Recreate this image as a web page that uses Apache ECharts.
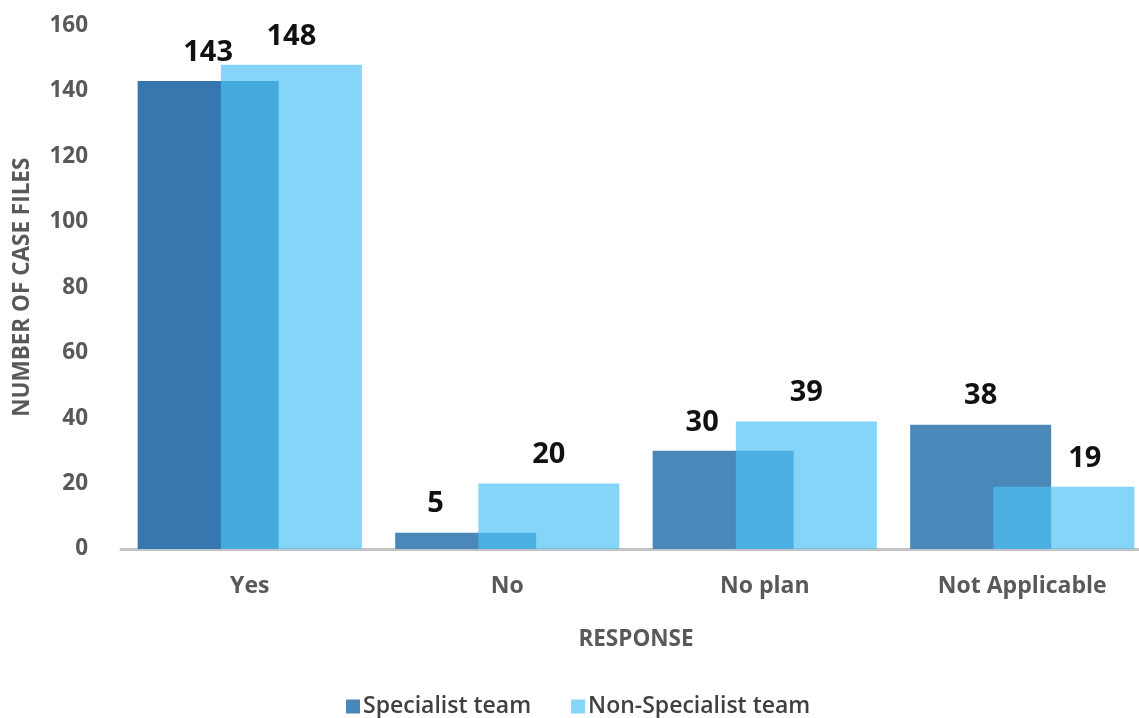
<!DOCTYPE html>
<html>
<head>
<meta charset="utf-8">
<script src="https://cdn.jsdelivr.net/npm/echarts@6/dist/echarts.min.js"></script>
<style>
  html, body { margin: 0; padding: 0; background: #ffffff; }
  #chart { width: 1139px; height: 718px; }
</style>
</head>
<body>
<div id="chart"></div>
<script>
// Case files by response, split by team type
const categories = ['Yes', 'No', 'No plan', 'Not Applicable'];
const specialist = [143, 5, 30, 38];
const nonSpecialist = [148, 20, 39, 19];
const seriesNames = ['Specialist team', 'Non-Specialist team'];
const yTicks = { min: 0, max: 160, step: 20 };

// Horizontal nudges (px) for value labels that sit near a neighbouring bar
const specialistLabelShift = [0, -30, -21, 0];
const nonSpecialistLabelShift = [0, 0, 0, 21];

const FONT = '"Open Sans", "Liberation Sans", sans-serif';
const GREY = '#595959';

const chart = echarts.init(document.getElementById('chart'), null, { renderer: 'canvas' });

const valueLabel = {
  show: true,
  position: 'top',
  distance: 14,
  fontFamily: FONT,
  fontSize: 29,
  fontWeight: 700,
  color: '#111111'
};

function withShift(values, shifts) {
  return values.map((v, i) => ({ value: v, label: { offset: [shifts[i], 0] } }));
}

chart.setOption({
  animation: false,
  backgroundColor: '#ffffff',
  grid: {
    left: 121, top: 25.5, width: 1030, height: 523.5,
    containLabel: false,
    outerBoundsMode: 'none'
  },
  legend: {
    left: 341,
    top: 690,
    itemWidth: 14,
    itemHeight: 14,
    itemGap: 40,
    icon: 'rect',
    textStyle: { fontFamily: FONT, fontSize: 23, fontWeight: 600, color: '#404040', padding: [0, 0, 0, -2] },
    data: [
      { name: seriesNames[0], itemStyle: { color: '#4a87b9' } },
      { name: seriesNames[1], itemStyle: { color: '#84d5f8' } }
    ]
  },
  xAxis: {
    type: 'category',
    data: categories,
    name: 'RESPONSE',
    nameLocation: 'middle',
    nameGap: 79,
    nameTextStyle: { fontFamily: FONT, fontSize: 22.5, fontWeight: 700, color: GREY },
    axisLine: { show: true, lineStyle: { color: '#c4c4c4', width: 3 } },
    axisTick: { show: false },
    axisLabel: { margin: 26, fontFamily: FONT, fontSize: 23, fontWeight: 700, color: GREY }
  },
  yAxis: {
    type: 'value',
    min: yTicks.min,
    max: yTicks.max,
    interval: yTicks.step,
    name: 'NUMBER OF CASE FILES',
    nameLocation: 'middle',
    nameGap: 87,
    nameRotate: 90,
    nameTextStyle: { fontFamily: FONT, fontSize: 22.5, fontWeight: 700, color: GREY },
    axisLine: { show: false },
    axisTick: { show: false },
    splitLine: { show: false },
    axisLabel: { margin: 33, fontFamily: FONT, fontSize: 22.5, fontWeight: 700, color: GREY }
  },
  series: [
    {
      name: seriesNames[0],
      type: 'bar',
      data: withShift(specialist, specialistLabelShift),
      barWidth: 141,
      barGap: '-41%',
      itemStyle: {
        color: (p) => (p.dataIndex === 0 ? '#3577ae' : '#4a88b9')
      },
      label: valueLabel
    },
    {
      name: seriesNames[1],
      type: 'bar',
      data: withShift(nonSpecialist, nonSpecialistLabelShift),
      barWidth: 141,
      barGap: '-41%',
      itemStyle: { color: 'rgba(77,194,245,0.69)' },
      label: valueLabel
    }
  ]
});
</script>
</body>
</html>
